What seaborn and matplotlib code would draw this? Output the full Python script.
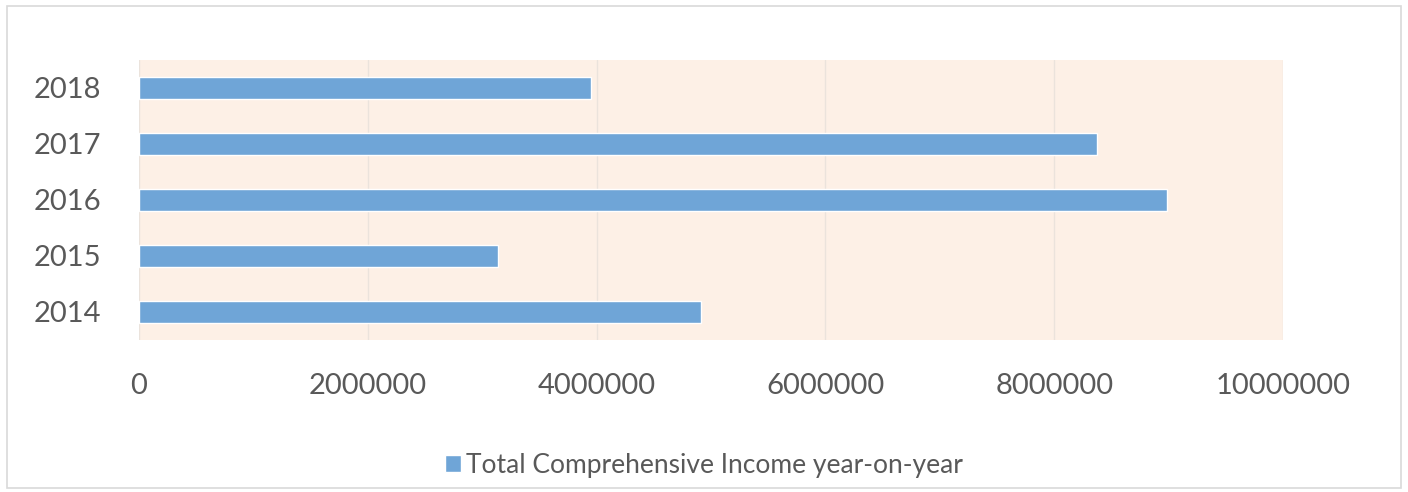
import matplotlib
matplotlib.use("Agg")
import matplotlib.pyplot as plt
import seaborn as sns
import pandas as pd
from matplotlib.patches import Rectangle

years = ["2018", "2017", "2016", "2015", "2014"]
values = [3950000, 8370000, 8990000, 3140000, 4910000]
xticks = [0, 2000000, 4000000, 6000000, 8000000, 10000000]
series_name = "Total Comprehensive Income year-on-year"

sns.set_theme(style="white")
plt.rcParams['font.family'] = ['Lato', 'DejaVu Sans']

df = pd.DataFrame({"year": years, "value": values, "series": series_name})

fig = plt.figure(figsize=(14.08, 4.92), dpi=100)
ax = fig.add_axes([139/1408, 1-340/492, (1283-139)/1408, 280/492])
ax.set_facecolor("#FDF0E6")

sns.barplot(data=df, x="value", y="year", hue="series", order=years,
            palette=["#6FA5D7"], saturation=1, width=0.4, ax=ax, orient="h", legend=True)

ax.set_xlim(0, 10000000)
ax.set_ylim(len(years) - 0.5, -0.5)
ax.set_xticks(xticks)
ax.set_xticklabels([str(t) for t in xticks])
ax.grid(axis="x", color="#EBE3DC", linewidth=1.0)
ax.set_axisbelow(True)
for s in ax.spines.values():
    s.set_visible(False)
ax.tick_params(axis="x", length=0, pad=24, labelsize=21, labelcolor="#595959")
ax.tick_params(axis="y", length=0, pad=27, labelsize=21, labelcolor="#595959")
ax.set_xlabel("")
ax.set_ylabel("")

leg = ax.legend(loc="center", bbox_to_anchor=(0.5, 1 - 465/492), bbox_transform=fig.transFigure,
                frameon=False, fontsize=19, handlelength=0.6, handleheight=0.6,
                handletextpad=0.2, labelcolor="#595959")

fig.patches.append(Rectangle((7/1408, 4/492), 1394/1408, 482/492, transform=fig.transFigure,
                             fill=False, edgecolor="#D9D9D9", linewidth=1.2))

fig.savefig("out.png", dpi=100)
